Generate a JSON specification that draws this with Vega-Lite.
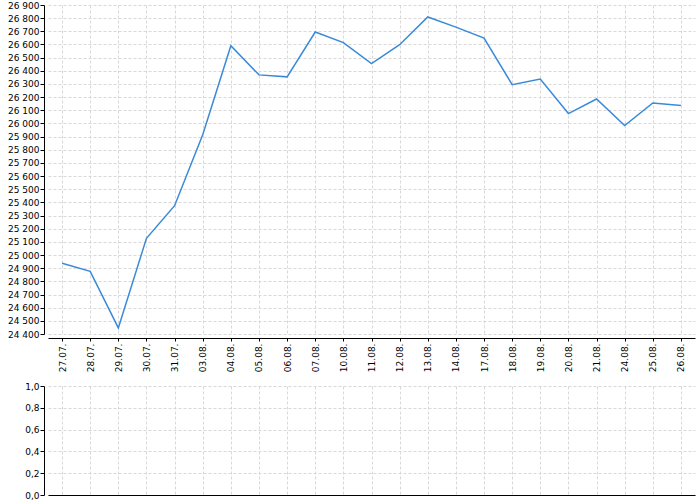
{
  "$schema": "https://vega.github.io/schema/vega-lite/v6.json",
  "padding": {"left": 7, "top": 1, "right": 5, "bottom": 0},
  "background": "white",
  "spacing": 10,
  "config": {
    "view": {"stroke": null},
    "axis": {
      "labelFont": "DejaVu Sans",
      "labelFontSize": 9,
      "labelColor": "#000000",
      "domainColor": "#000000",
      "tickColor": "#000000",
      "gridColor": "#d8d8d8",
      "gridDash": [3, 2],
      "gridWidth": 1,
      "title": null
    }
  },
  "datasets": {
    "prices": [
      {"date": "27.07.", "value": 24937},
      {"date": "28.07.", "value": 24876},
      {"date": "29.07.", "value": 24446},
      {"date": "30.07.", "value": 25127},
      {"date": "31.07.", "value": 25375},
      {"date": "03.08.", "value": 25914},
      {"date": "04.08.", "value": 26590},
      {"date": "05.08.", "value": 26369},
      {"date": "06.08.", "value": 26354},
      {"date": "07.08.", "value": 26695},
      {"date": "10.08.", "value": 26614},
      {"date": "11.08.", "value": 26455},
      {"date": "12.08.", "value": 26598},
      {"date": "13.08.", "value": 26809},
      {"date": "14.08.", "value": 26732},
      {"date": "17.08.", "value": 26648},
      {"date": "18.08.", "value": 26295},
      {"date": "19.08.", "value": 26338},
      {"date": "20.08.", "value": 26075},
      {"date": "21.08.", "value": 26186},
      {"date": "24.08.", "value": 25984},
      {"date": "25.08.", "value": 26156},
      {"date": "26.08.", "value": 26136}
    ]
  },
  "vconcat": [
    {
      "width": 647,
      "height": 329,
      "data": {"name": "prices"},
      "mark": {"type": "line", "color": "#3a8ad9", "strokeWidth": 1.5},
      "encoding": {
        "x": {
          "field": "date",
          "type": "ordinal",
          "sort": null,
          "scale": {"type": "point", "padding": 0.5},
          "axis": {
            "labelAngle": -90,
            "offset": 4,
            "tickSize": 3,
            "labelPadding": 2,
            "grid": true
          }
        },
        "y": {
          "field": "value",
          "type": "quantitative",
          "scale": {"domain": [24400, 26900], "nice": false, "zero": false},
          "axis": {
            "values": [24400, 24500, 24600, 24700, 24800, 24900, 25000, 25100, 25200, 25300, 25400, 25500, 25600, 25700, 25800, 25900, 26000, 26100, 26200, 26300, 26400, 26500, 26600, 26700, 26800, 26900],
            "offset": 4,
            "tickSize": 4,
            "labelPadding": 1,
            "labelExpr": "replace(format(datum.value, ','), ',', ' ')",
            "grid": true
          }
        }
      }
    },
    {
      "width": 647,
      "height": 109,
      "data": {"name": "prices"},
      "mark": {"type": "point", "opacity": 0},
      "encoding": {
        "x": {
          "field": "date",
          "type": "ordinal",
          "sort": null,
          "scale": {"type": "point", "padding": 0.5},
          "axis": {
            "labels": false,
            "ticks": false,
            "offset": 0,
            "grid": true
          }
        },
        "y": {
          "datum": 0,
          "type": "quantitative",
          "scale": {"domain": [0, 1], "nice": false},
          "axis": {
            "values": [0, 0.2, 0.4, 0.6, 0.8, 1],
            "offset": 4,
            "tickSize": 4,
            "labelPadding": 1,
            "labelExpr": "replace(format(datum.value, '.1f'), '.', ',')",
            "grid": true
          }
        }
      }
    }
  ]
}
